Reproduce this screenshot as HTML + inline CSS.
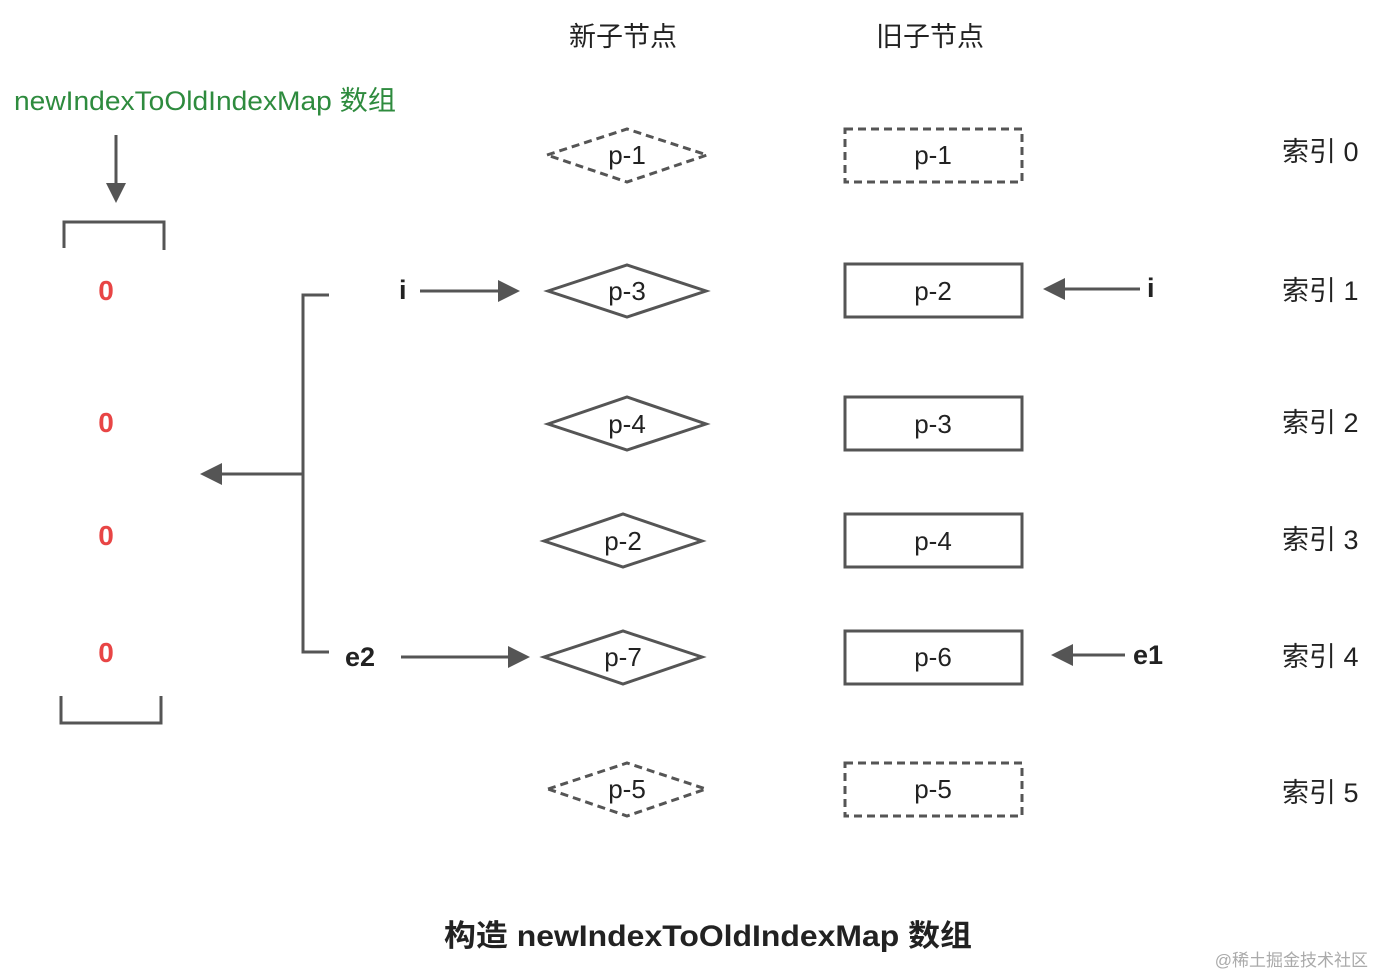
<!DOCTYPE html>
<html><head><meta charset="utf-8"><style>
html,body{margin:0;padding:0;background:#fff;}
svg{display:block;}
text{font-family:"Liberation Sans","Noto Sans CJK SC",sans-serif;}
</style></head><body>
<svg width="1376" height="977" viewBox="0 0 1376 977" xmlns="http://www.w3.org/2000/svg">
<g fill="none" stroke="#555" stroke-width="3">
<polygon points="547,155 627,129 707,155 627,182" stroke-dasharray="8,5"/>
<polygon points="548,291 627,265 706,291 627,317"/>
<polygon points="548,424 627,397 706,424 627,450"/>
<polygon points="544,541 623,514 702,541 623,567"/>
<polygon points="544,657 623,631 702,657 623,684"/>
<polygon points="548,789 627,763 706,789 627,816" stroke-dasharray="8,5"/>
<rect x="845" y="129" width="177" height="53" stroke-dasharray="8,5"/>
<rect x="845" y="264" width="177" height="53"/>
<rect x="845" y="397" width="177" height="53"/>
<rect x="845" y="514" width="177" height="53"/>
<rect x="845" y="631" width="177" height="53"/>
<rect x="845" y="763" width="177" height="53" stroke-dasharray="8,5"/>
<polyline points="64,248 64,222 164,222 164,250"/>
<polyline points="61,696 61,723 161,723 161,696"/>
<polyline points="329,295 303,295 303,652 329,652"/>
<line x1="116" y1="135" x2="116" y2="185"/>
<line x1="303" y1="474" x2="220" y2="474"/>
<line x1="420" y1="291" x2="500" y2="291"/>
<line x1="401" y1="657" x2="510" y2="657"/>
<line x1="1140" y1="289" x2="1062" y2="289"/>
<line x1="1125" y1="655" x2="1070" y2="655"/>
</g>
<g fill="#555">
<polygon points="106,183 126,183 116,203"/>
<polygon points="222,463 222,485 200,474"/>
<polygon points="498,280 498,302 520,291"/>
<polygon points="508,646 508,668 530,657"/>
<polygon points="1065,278 1065,300 1043,289"/>
<polygon points="1073,644 1073,666 1051,655"/>
</g>
<g font-size="26" fill="#222" text-anchor="middle">
<text x="627" y="164">p-1</text>
<text x="627" y="300">p-3</text>
<text x="627" y="433">p-4</text>
<text x="623" y="550">p-2</text>
<text x="623" y="666">p-7</text>
<text x="627" y="798">p-5</text>
<text x="933" y="164">p-1</text>
<text x="933" y="300">p-2</text>
<text x="933" y="433">p-3</text>
<text x="933" y="550">p-4</text>
<text x="933" y="666">p-6</text>
<text x="933" y="798">p-5</text>
<text x="623" y="46" font-size="27">新子节点</text>
<text x="930" y="46" font-size="27">旧子节点</text>
</g>
<g font-size="27" fill="#222">
<text x="1282" y="161">索引 0</text>
<text x="1282" y="300">索引 1</text>
<text x="1282" y="432">索引 2</text>
<text x="1282" y="549">索引 3</text>
<text x="1282" y="666">索引 4</text>
<text x="1282" y="802">索引 5</text>
</g>
<g font-size="27" font-weight="bold" fill="#222">
<text x="399" y="299">i</text>
<text x="1147" y="297">i</text>
<text x="345" y="666">e2</text>
<text x="1133" y="664">e1</text>
</g>
<g font-size="28" font-weight="bold" fill="#e84545" text-anchor="middle">
<text x="106" y="300">0</text>
<text x="106" y="432">0</text>
<text x="106" y="545">0</text>
<text x="106" y="662">0</text>
</g>
<text x="14" y="110" font-size="27" fill="#2e8b3e" textLength="382" lengthAdjust="spacingAndGlyphs">newIndexToOldIndexMap 数组</text>
<text x="444" y="946" font-size="30" font-weight="bold" fill="#222" textLength="528" lengthAdjust="spacingAndGlyphs">构造 newIndexToOldIndexMap 数组</text>
<text x="1368" y="966" font-size="17" fill="#aaa" text-anchor="end">@稀土掘金技术社区</text>
</svg>
</body></html>
